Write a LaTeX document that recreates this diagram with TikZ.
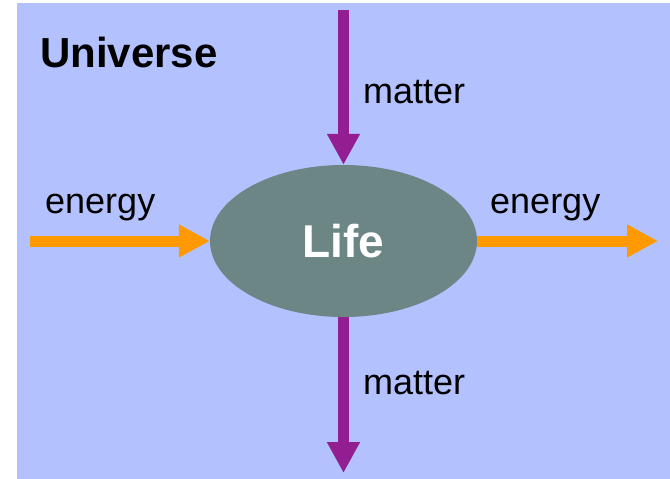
\documentclass[tikz,border=0pt]{standalone}
\usepackage{fontspec}
\setmainfont{Liberation Sans}
\usetikzlibrary{arrows.meta,shapes.geometric}
\definecolor{univblue}{RGB}{179,194,255}
\definecolor{lifegray}{RGB}{108,134,134}
\definecolor{matterpurple}{RGB}{146,30,146}
\definecolor{energyorange}{RGB}{255,153,0}
\tikzset{
  flow/.style={line width=11pt,-{Triangle[width=31pt,length=31pt]}},
  label/.style={anchor=base west,inner sep=0pt,font=\fontsize{36}{36}\selectfont}
}
\begin{document}
\begin{tikzpicture}[x=1pt,y=-1pt]
  \useasboundingbox (0,0) rectangle (670,479);
  % fondo: universo
  \fill[univblue] (17,3) rectangle (670,479);
  \node[anchor=base west,inner sep=0pt,font=\bfseries\fontsize{42}{42}\selectfont] (univ) at (40,67) {Universe};
  % vida
  \node[ellipse,fill=lifegray,minimum width=267pt,minimum height=152pt,inner sep=0pt,
        text=white,font=\bfseries\fontsize{46}{46}\selectfont] (life) at (343.5,241) {\raisebox{-3pt}{Life}};
  % extremos libres
  \coordinate (mtop) at (343.5,10);
  \coordinate (mbot) at (343.5,473);
  \coordinate (eleft) at (30,241);
  \coordinate (eright) at (658,241);
  % flechas de materia
  \draw[flow,matterpurple] (mtop) -- (life.north);
  \draw[flow,matterpurple] (life.south) -- (mbot);
  % flechas de energia
  \draw[flow,energyorange] (eleft) -- (life.west);
  \draw[flow,energyorange] (life.east) -- (eright);
  % etiquetas
  \node[label] (mattertop) at (363,103) {matter};
  \node[label] (matterbot) at (363,394) {matter};
  \node[label] (energyleft) at (45,213) {energy};
  \node[label] (energyright) at (490,213) {energy};
\end{tikzpicture}
\end{document}
